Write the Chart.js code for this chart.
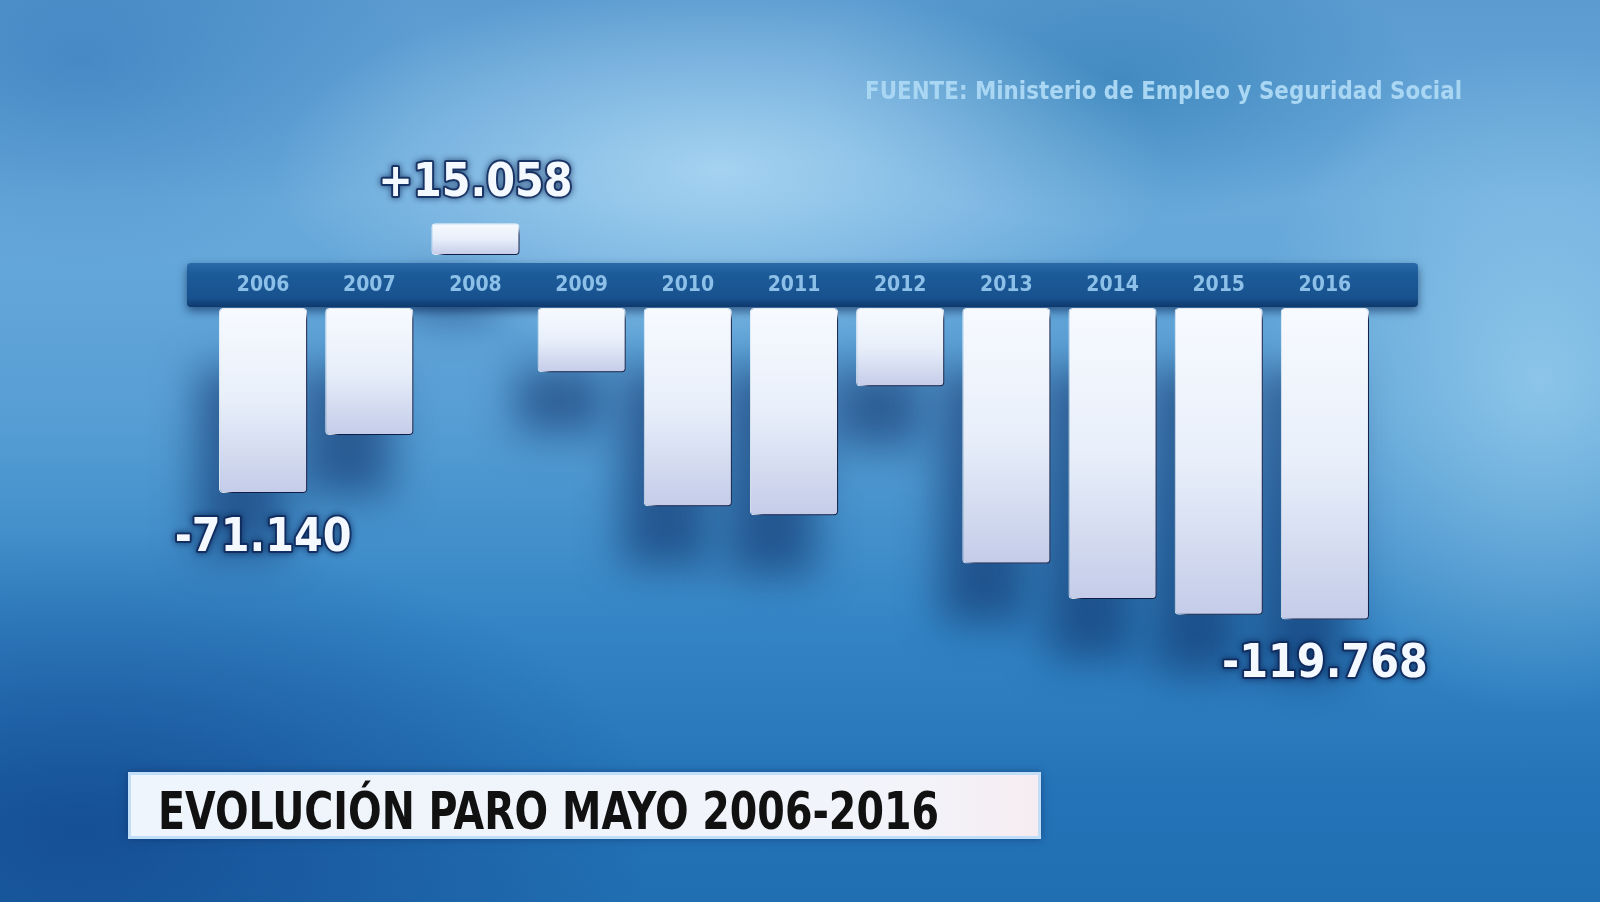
<!DOCTYPE html>
<html><head><meta charset="utf-8">
<script src="https://cdn.jsdelivr.net/npm/chart.js@4.4.1/dist/chart.umd.min.js"></script>
<style>
html,body{margin:0;padding:0;width:1600px;height:902px;overflow:hidden;}
body{
background:
 radial-gradient(ellipse 620px 260px at 720px 170px, rgba(190,228,250,0.70), rgba(190,228,250,0) 72%),
 radial-gradient(ellipse 420px 480px at 1540px 380px, rgba(160,212,240,0.70), rgba(160,212,240,0) 70%),
 radial-gradient(ellipse 420px 200px at 1120px 80px, rgba(40,120,175,0.55), rgba(40,120,175,0) 72%),
 radial-gradient(ellipse 800px 420px at 80px 830px, rgba(14,60,130,0.65), rgba(14,60,130,0) 72%),
 radial-gradient(ellipse 500px 300px at 80px 60px, rgba(40,110,180,0.45), rgba(40,110,180,0) 70%),
 linear-gradient(to bottom, #5b9bd0 0%, #6aaadb 22%, #589fd5 45%, #3384c4 70%, #2473b8 88%, #216eb2 100%);
}
canvas{position:absolute;left:0;top:0;}
</style></head><body>
<canvas id="c" width="1600" height="902"></canvas>
<script>
const years = ['2006','2007','2008','2009','2010','2011','2012','2013','2014','2015','2016'];
const paroChange = [-71140, -48800, 15058, -24741, -76223, -79701, -30113, -98265, -111916, -117985, -119768];
const labeledYears = ['2006','2008','2016'];
const titleText = 'EVOLUCIÓN PARO MAYO 2006-2016';
const sourceText = 'FUENTE: Ministerio de Empleo y Seguridad Social';

const negValues = paroChange.map(v => v < 0 ? v : null);
const posValues = paroChange.map(v => v > 0 ? v : null);

function fmt(v){
  const s = Math.abs(v).toString().replace(/\B(?=(\d{3})+(?!\d))/g, '.');
  return (v < 0 ? '-' : '+') + s;
}

function barGradient(c){
  const chart = c.chart;
  const v = c.raw;
  if (v == null || !chart.chartArea) return '#eef4fc';
  const sc = chart.scales[c.dataset.yAxisID];
  const y0 = sc.getPixelForValue(0), y1 = sc.getPixelForValue(v);
  if (!isFinite(y0) || !isFinite(y1) || y0 === y1) return '#eef4fc';
  const g = chart.ctx.createLinearGradient(0, Math.min(y0,y1), 0, Math.max(y0,y1));
  g.addColorStop(0, '#f7faff');
  g.addColorStop(0.5, '#e8effa');
  g.addColorStop(1, '#c4cce9');
  return g;
}

function fitText(ctx, text, x, y, target){
  const w = ctx.measureText(text).width;
  ctx.save();
  ctx.translate(x, y);
  ctx.scale(target / w, 1);
  ctx.fillText(text, 0, 0);
  ctx.restore();
}

function roundRect(ctx, x, y, w, h, r){
  ctx.beginPath();
  ctx.moveTo(x + r, y);
  ctx.lineTo(x + w - r, y);
  ctx.quadraticCurveTo(x + w, y, x + w, y + r);
  ctx.lineTo(x + w, y + h - r);
  ctx.quadraticCurveTo(x + w, y + h, x + w - r, y + h);
  ctx.lineTo(x + r, y + h);
  ctx.quadraticCurveTo(x, y + h, x, y + h - r);
  ctx.lineTo(x, y + r);
  ctx.quadraticCurveTo(x, y, x + r, y);
  ctx.closePath();
}

const decor = {
  id: 'decor',
  beforeDatasetsDraw(chart){
    const {ctx, chartArea: a, scales} = chart;
    const xs = scales.x, yb = scales.yBand;
    ctx.save();
    chart.getSortedVisibleDatasetMetas().forEach(meta => {
      meta.data.forEach(el => {
        if (!isFinite(el.y) || !isFinite(el.base) || el.y === el.base) return;
        const top = Math.min(el.y, el.base), h = Math.abs(el.y - el.base);
        ctx.shadowColor = 'rgba(10,40,95,0.55)';
        ctx.shadowBlur = 40;
        ctx.shadowOffsetX = 4000 - 22;
        ctx.shadowOffsetY = 60;
        ctx.fillStyle = '#000';
        ctx.fillRect(el.x - el.width/2 - 4000, top, el.width, h);
      });
    });
    ctx.restore();
    const bx = a.left - 23, bw = (a.right + 40) - bx;
    const byTop = yb.top + 8, bh = yb.bottom - 1 - byTop;
    ctx.save();
    ctx.shadowColor = 'rgba(5,30,75,0.6)';
    ctx.shadowBlur = 10;
    ctx.shadowOffsetY = 4;
    const g = ctx.createLinearGradient(0, byTop, 0, byTop + bh);
    g.addColorStop(0, '#2a6aa8');
    g.addColorStop(0.25, '#1c5b99');
    g.addColorStop(0.8, '#18528e');
    g.addColorStop(1, '#0e386c');
    ctx.fillStyle = g;
    roundRect(ctx, bx, byTop, bw, bh, 4);
    ctx.fill();
    ctx.restore();
    ctx.save();
    ctx.fillStyle = '#8cc0e8';
    ctx.font = 'bold 21px "Liberation Sans Narrow", "DejaVu Sans Condensed", sans-serif';
    ctx.textAlign = 'center';
    ctx.textBaseline = 'middle';
    years.forEach((yr, i) => {
      ctx.fillText(yr, xs.getPixelForValue(i), byTop + bh/2 + 1);
    });
    ctx.restore();
    ctx.save();
    ctx.shadowColor = 'rgba(4,18,60,0.95)';
    ctx.shadowBlur = 5;
    ctx.shadowOffsetX = 8;
    ctx.shadowOffsetY = 7;
  },
  afterDatasetsDraw(chart){
    const ctx = chart.ctx;
    ctx.restore();
    ctx.save();
    ctx.font = 'bold 46px "Liberation Sans Narrow", "DejaVu Sans Condensed", sans-serif';
    ctx.textAlign = 'center';
    ctx.textBaseline = 'middle';
    chart.getSortedVisibleDatasetMetas().forEach(meta => {
      meta.data.forEach((el, i) => {
        const v = paroChange[i];
        const raw = chart.data.datasets[meta.index].data[i];
        if (raw == null || !labeledYears.includes(years[i])) return;
        const txt = fmt(v);
        const y = v < 0 ? el.y + 46 : el.y - 39;
        ctx.save();
        ctx.shadowColor = 'rgba(5,25,70,0.9)';
        ctx.shadowBlur = 6;
        ctx.lineWidth = 4;
        ctx.strokeStyle = 'rgba(15,40,90,0.85)';
        ctx.lineJoin = 'round';
        ctx.strokeText(txt, el.x, y);
        ctx.shadowBlur = 0;
        ctx.fillStyle = '#f4f8ff';
        ctx.fillText(txt, el.x, y);
        ctx.restore();
      });
    });
    ctx.restore();
  },
  afterDraw(chart){
    const ctx = chart.ctx;
    ctx.save();
    ctx.font = 'bold 24px "Liberation Sans Narrow", "DejaVu Sans Condensed", sans-serif';
    ctx.fillStyle = '#a9d6f3';
    ctx.textBaseline = 'middle';
    fitText(ctx, sourceText, 865, 93, 597);
    ctx.restore();
    ctx.save();
    ctx.shadowColor = 'rgba(10,40,90,0.5)';
    ctx.shadowBlur = 8;
    const tg = ctx.createLinearGradient(128, 0, 1041, 0);
    tg.addColorStop(0, '#eef5fc');
    tg.addColorStop(0.85, '#f2f4fa');
    tg.addColorStop(1, '#f6ecf1');
    ctx.fillStyle = tg;
    ctx.fillRect(128, 772, 913, 67);
    ctx.shadowBlur = 0;
    ctx.strokeStyle = 'rgba(190,220,248,0.95)';
    ctx.lineWidth = 3;
    ctx.strokeRect(129.5, 773.5, 910, 64);
    ctx.fillStyle = '#111111';
    ctx.font = 'bold 52px "Liberation Sans Narrow", "DejaVu Sans Condensed", sans-serif';
    ctx.textBaseline = 'alphabetic';
    fitText(ctx, titleText, 158, 829, 781);
    ctx.restore();
  }
};

new Chart(document.getElementById('c'), {
  type: 'bar',
  data: {
    labels: years,
    datasets: [
      {label: 'neg', data: negValues, yAxisID: 'yNeg', grouped: false, clip: false,
       backgroundColor: barGradient, borderColor: 'rgba(255,255,255,0.85)', borderWidth: 1,
       borderRadius: 4, borderSkipped: false, barPercentage: 0.83, categoryPercentage: 1},
      {label: 'pos', data: posValues, yAxisID: 'yPos', grouped: false, clip: false,
       backgroundColor: barGradient, borderColor: 'rgba(255,255,255,0.85)', borderWidth: 1,
       borderRadius: 4, borderSkipped: false, barPercentage: 0.83, categoryPercentage: 1}
    ]
  },
  options: {
    responsive: false,
    animation: false,
    devicePixelRatio: 1,
    layout: {padding: {top: 200, bottom: 269, left: 210, right: 222}},
    plugins: {legend: {display: false}, tooltip: {enabled: false}, title: {display: false}},
    scales: {
      x: {display: false, offset: true},
      yPos: {type: 'linear', display: false, position: 'left', stack: 'v', stackWeight: 55, weight: 3, min: 0, max: 26000},
      yBand: {type: 'linear', display: false, position: 'left', stack: 'v', stackWeight: 53, weight: 2, min: 0, max: 1},
      yNeg: {type: 'linear', display: false, position: 'left', stack: 'v', stackWeight: 325, weight: 1, min: -125000, max: 0}
    }
  },
  plugins: [decor]
});
</script>
</body></html>
